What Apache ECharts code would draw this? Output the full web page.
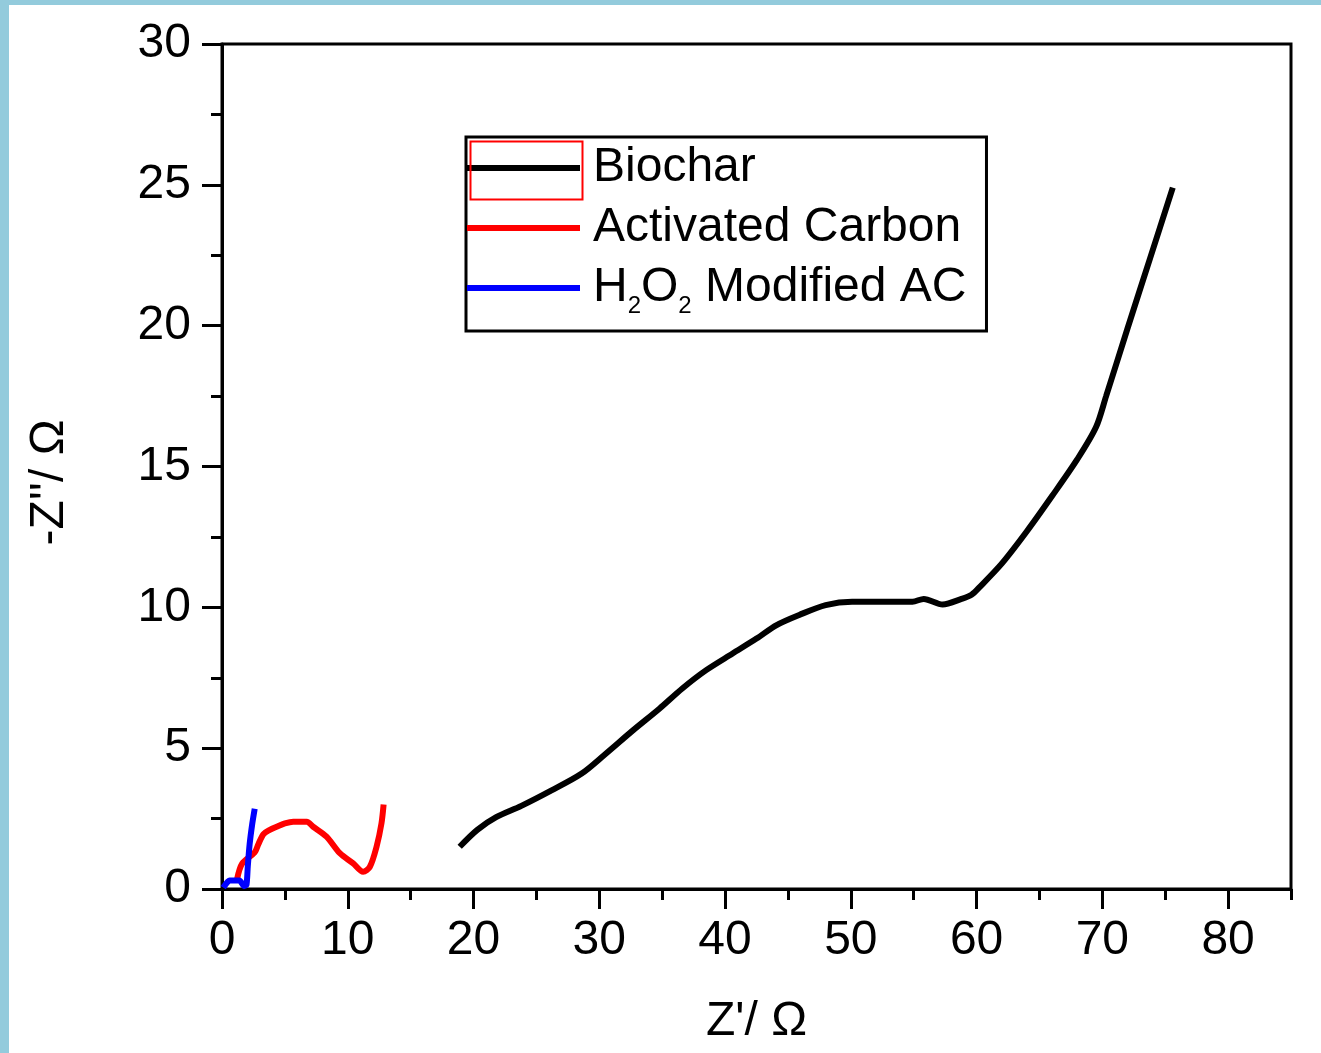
<!DOCTYPE html>
<html>
<head>
<meta charset="utf-8">
<script src="https://cdn.jsdelivr.net/npm/echarts@6/dist/echarts.min.js"></script>
<style>
html,body{margin:0;padding:0;background:#fff;}
#chart{width:1321px;height:1053px;}
</style>
</head>
<body>
<div id="chart"></div>
<script>
// ---- data ----
var seriesNames = ['Biochar', 'Activated Carbon', 'H2O2 Modified AC'];
var biocharData = [
  [18.9,1.5],[20.3,2.1],[21.8,2.55],[23.8,2.95],[26.2,3.5],[28.6,4.1],[30.4,4.76],
  [32.7,5.64],[34.8,6.41],[36.6,7.12],[38.5,7.77],[40.6,8.36],[42.5,8.89],[44.1,9.37],
  [45.9,9.73],[48.0,10.08],[50.1,10.2],[54.9,10.2],[55.8,10.3],[57.3,10.1],[58.8,10.3],
  [59.6,10.45],[60.2,10.7],[62.0,11.55],[64.0,12.7],[66.0,13.95],[68.0,15.25],[69.5,16.4],
  [70.3,17.5],[72.0,19.9],[73.8,22.4],[75.6,24.9]
];
var activatedCarbonData = [
  [1.2,0.35],[1.6,0.9],[2.6,1.3],[2.9,1.6],[3.3,1.95],[3.8,2.1],[4.34,2.21],[5.0,2.33],
  [5.67,2.39],[6.73,2.39],[7.25,2.21],[8.31,1.86],[9.37,1.27],[10.43,0.91],[11.22,0.61],
  [11.76,0.79],[12.29,1.5],[12.68,2.33],[12.85,3.0]
];
var h2o2Data = [
  [0.1,0.05],[0.6,0.3],[1.4,0.3],[1.75,0.1],[1.95,0.15],[2.05,0.8],[2.2,1.6],[2.4,2.3],[2.6,2.85]
];
var xMajorTicks = [0,10,20,30,40,50,60,70,80];
var xMinorTicks = [5,15,25,35,45,55,65,75,85];
var seriesColors = ['#000000', '#ff0000', '#0000ff'];

// ---- chart ----
var FONT = '"Liberation Sans", Arial, sans-serif';
var FS = 48;
var chart = echarts.init(document.getElementById('chart'), null, {renderer: 'canvas'});
var option = {
  animation: false,
  backgroundColor: '#ffffff',
  textStyle: {fontFamily: FONT},
  grid: {
    left: 222, top: 44, right: 30, bottom: 164,
    show: true, borderColor: '#000', borderWidth: 3, backgroundColor: 'transparent'
  },
  legend: {
    orient: 'vertical',
    left: 466, top: 137,
    data: seriesNames,
    icon: 'rect',
    itemWidth: 113, itemHeight: 6,
    itemGap: 0,
    borderColor: '#000', borderWidth: 3,
    padding: [1, 20, 13, 1],
    backgroundColor: '#fff',
    selectedMode: false,
    formatter: function (name) {
      if (name === 'H2O2 Modified AC') return 'H{sub|2}O{sub|2} Modified AC';
      return name;
    },
    textStyle: {
      fontFamily: FONT, fontSize: FS, lineHeight: 60, color: '#000',
      padding: [0, 0, 0, 8],
      rich: {
        sub: {fontFamily: FONT, fontSize: 24, lineHeight: 2, verticalAlign: 'bottom', color: '#000'}
      }
    }
  },
  xAxis: [{
    type: 'value', min: 0, max: 85, position: 'bottom',
    name: "Z'/ Ω", nameLocation: 'middle', nameGap: 109,
    nameTextStyle: {fontFamily: FONT, fontSize: FS, color: '#000'},
    axisLine: {show: true, onZero: false, lineStyle: {color: '#000', width: 3}},
    axisTick: {show: true, inside: false, length: 20, customValues: xMajorTicks, lineStyle: {color: '#000', width: 3}},
    axisLabel: {show: true, customValues: xMajorTicks, margin: 28, fontFamily: FONT, fontSize: FS, color: '#000'},
    splitLine: {show: false}
  }, {
    type: 'value', min: 0, max: 85, position: 'bottom',
    axisLine: {show: false, onZero: false},
    axisTick: {show: true, inside: false, length: 11, customValues: xMinorTicks, lineStyle: {color: '#000', width: 3}},
    axisLabel: {show: false},
    splitLine: {show: false}
  }],
  yAxis: {
    type: 'value', min: 0, max: 30, interval: 5,
    name: "-Z''/ Ω", nameLocation: 'middle', nameGap: 148, nameRotate: 90,
    nameTextStyle: {fontFamily: FONT, fontSize: FS, color: '#000', padding: [0, 32, 0, 0]},
    axisLine: {show: true, onZero: false, lineStyle: {color: '#000', width: 3}},
    axisTick: {show: true, inside: false, length: 20, lineStyle: {color: '#000', width: 3}},
    minorTick: {show: true, splitNumber: 2, length: 11, lineStyle: {color: '#000', width: 3}},
    axisLabel: {margin: 31, fontFamily: FONT, fontSize: FS, color: '#000'},
    splitLine: {show: false},
    minorSplitLine: {show: false}
  },
  series: [
    {name: seriesNames[0], type: 'line', data: biocharData, smooth: 0.3, showSymbol: false, symbol: 'none',
     lineStyle: {color: seriesColors[0], width: 6}, itemStyle: {color: seriesColors[0]}},
    {name: seriesNames[1], type: 'line', data: activatedCarbonData, smooth: 0.3, showSymbol: false, symbol: 'none',
     lineStyle: {color: seriesColors[1], width: 6}, itemStyle: {color: seriesColors[1]}},
    {name: seriesNames[2], type: 'line', data: h2o2Data, smooth: 0.2, showSymbol: false, symbol: 'none',
     lineStyle: {color: seriesColors[2], width: 6}, itemStyle: {color: seriesColors[2]}}
  ],
  graphic: [
    {type: 'rect', left: 0, top: 0, shape: {width: 9, height: 1053}, style: {fill: '#93cbdc'}, z: 100},
    {type: 'rect', left: 0, top: 0, shape: {width: 1321, height: 5}, style: {fill: '#93cbdc'}, z: 100},
    {type: 'rect', left: 468, top: 139, shape: {width: 112, height: 58}, style: {fill: 'none', stroke: '#ff0000', lineWidth: 2}, z: 100}
  ]
};
chart.setOption(option);
</script>
</body>
</html>
